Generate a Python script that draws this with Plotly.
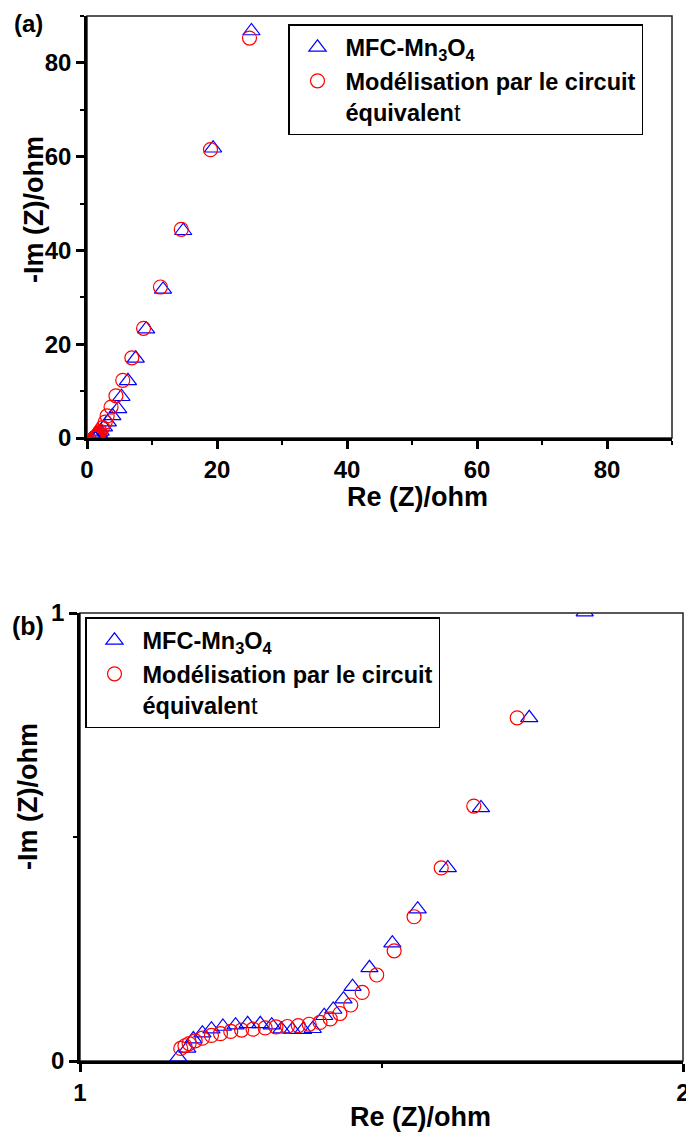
import plotly.graph_objects as go

# ---- data ----
mfc_re = [1.163, 1.178, 1.188, 1.203, 1.218, 1.237, 1.258, 1.278, 1.299, 1.318,
          1.334, 1.352, 1.370, 1.386, 1.405, 1.420, 1.437, 1.452, 1.480, 1.518,
          1.560, 1.610, 1.665, 1.745, 1.837,
          2.1, 2.6, 3.2, 3.9, 4.8, 5.3, 6.3, 7.5, 9.1, 11.7, 14.8, 19.4, 25.3]
mfc_im = [0.008, 0.028, 0.049, 0.062, 0.071, 0.077, 0.080, 0.083, 0.083, 0.080,
          0.071, 0.070, 0.070, 0.072, 0.101, 0.115, 0.138, 0.166, 0.208, 0.263,
          0.339, 0.431, 0.565, 0.766, 1.002,
          1.4, 2.3, 3.4, 4.7, 6.2, 8.8, 12.2, 17.0, 23.2, 31.7, 44.2, 61.8, 86.8]

fit_re = [1.167, 1.174, 1.181, 1.191, 1.203, 1.218, 1.233, 1.250, 1.268, 1.287,
          1.307, 1.325, 1.344, 1.362, 1.380, 1.398, 1.415, 1.431, 1.449, 1.468,
          1.492, 1.521, 1.554, 1.599, 1.653, 1.725, 1.83,
          2.0, 2.4, 2.8, 3.1, 3.7, 4.45, 5.5, 6.9, 8.7, 11.3, 14.5, 19.0, 25.0]
fit_im = [0.028, 0.034, 0.039, 0.045, 0.051, 0.057, 0.061, 0.066, 0.069, 0.071,
          0.074, 0.076, 0.077, 0.079, 0.082, 0.086, 0.094, 0.106, 0.125, 0.153,
          0.192, 0.246, 0.322, 0.431, 0.569, 0.766, 1.05,
          1.4, 2.2, 3.4, 4.7, 6.6, 9.0, 12.3, 17.1, 23.4, 32.2, 44.5, 61.5, 85.3]

name_mfc = "<b>MFC-Mn<sub>3</sub>O<sub>4</sub></b>"
name_fit = "<b>Modélisation par le circuit</b><br><b>équivalen</b>t"

W, H = 686, 1133
FONT = "Liberation Sans, Arial, Helvetica, sans-serif"

def px_x(p):
    return p / W

def px_y(p):
    return 1 - p / H

tri = dict(symbol="triangle-up-open", size=15, color="#0000FF", line=dict(width=1.2, color="#0000FF"))
circ = dict(symbol="circle-open", size=14, color="#FF0000", line=dict(width=1.2, color="#FF0000"))

fig = go.Figure()
fig.add_trace(go.Scatter(x=mfc_re, y=mfc_im, mode="markers", marker=tri, name=name_mfc,
                         xaxis="x", yaxis="y", legend="legend"))
fig.add_trace(go.Scatter(x=fit_re, y=fit_im, mode="markers", marker=circ, name=name_fit,
                         xaxis="x", yaxis="y", legend="legend"))
fig.add_trace(go.Scatter(x=mfc_re, y=mfc_im, mode="markers", marker=tri, name=name_mfc,
                         xaxis="x2", yaxis="y2", legend="legend2"))
fig.add_trace(go.Scatter(x=fit_re, y=fit_im, mode="markers", marker=circ, name=name_fit,
                         xaxis="x2", yaxis="y2", legend="legend2"))

tickfont = dict(family=FONT, size=24, color="black", weight="bold")
common = dict(showgrid=False, zeroline=False, showline=True, linecolor="black", linewidth=2.5,
              ticks="outside", ticklen=8, tickwidth=2.5, tickcolor="black",
              tickfont=tickfont, automargin=False, mirror=False, ticklabeloverflow="allow")

legfont = dict(family=FONT, size=23.5, color="black")

fig.update_layout(
    width=W, height=H,
    margin=dict(l=0, r=0, t=0, b=0),
    paper_bgcolor="white", plot_bgcolor="white",
    showlegend=True,
    xaxis=dict(domain=[px_x(87), px_x(672)], range=[0, 90], dtick=20, tick0=0,
               minor=dict(ticks="outside", ticklen=4, tickwidth=2, dtick=10, tickcolor="black"),
               anchor="y", **common),
    yaxis=dict(domain=[px_y(438), px_y(16)], range=[0, 90], dtick=20, tick0=0,
               minor=dict(ticks="outside", ticklen=4, tickwidth=2, dtick=10, tickcolor="black"),
               anchor="x", **common),
    xaxis2=dict(domain=[px_x(80), px_x(683)], range=[1, 2], tickmode="array",
                tickvals=[1, 2], ticktext=["1", "2"],
                minor=dict(ticks="outside", ticklen=4, tickwidth=2, tickmode="array",
                           tickvals=[1.5], tickcolor="black"),
                anchor="y2", **common),
    yaxis2=dict(domain=[px_y(1061), px_y(613)], range=[0, 1], dtick=1, tick0=0,
                minor=dict(ticks="outside", ticklen=4, tickwidth=2, dtick=0.5, tickcolor="black"),
                anchor="x2", **common),
    legend=dict(x=px_x(288), y=px_y(24), xanchor="left", yanchor="top",
                bordercolor="black", borderwidth=1.5, bgcolor="white",
                font=legfont, valign="top", itemwidth=46, tracegroupgap=0),
    legend2=dict(x=px_x(85), y=px_y(617), xanchor="left", yanchor="top",
                 bordercolor="black", borderwidth=1.5, bgcolor="white",
                 font=legfont, valign="top", itemwidth=46, tracegroupgap=0),
)

# thin frame (top/right) of each panel
for xr, yr in (("x", "y"), ("x2", "y2")):
    fig.add_shape(type="rect", xref=f"{xr} domain", yref=f"{yr} domain", x0=0, x1=1, y0=0, y1=1,
                  line=dict(color="#222222", width=1.5), layer="below")

annos = [
    ("(a)", 29, 24, 0, 24),
    ("(b)", 28, 626, 0, 25),
    ("Re (Z)/ohm", 417, 497, 0, 27),
    ("-Im (Z)/ohm", 34, 210, -90, 27),
    ("Re (Z)/ohm", 420, 1117, 0, 27),
    ("-Im (Z)/ohm", 28, 797, -90, 27),
]
for text, x, y, ang, sz in annos:
    fig.add_annotation(text=text, x=px_x(x), y=px_y(y), xref="paper", yref="paper",
                       xanchor="center", yanchor="middle", showarrow=False, textangle=ang,
                       font=dict(family=FONT, size=sz, color="black", weight="bold"))

fig.write_html("out.html", config={"displayModeBar": False},
               post_script="document.body.style.margin='0';document.body.style.overflow='hidden';")
